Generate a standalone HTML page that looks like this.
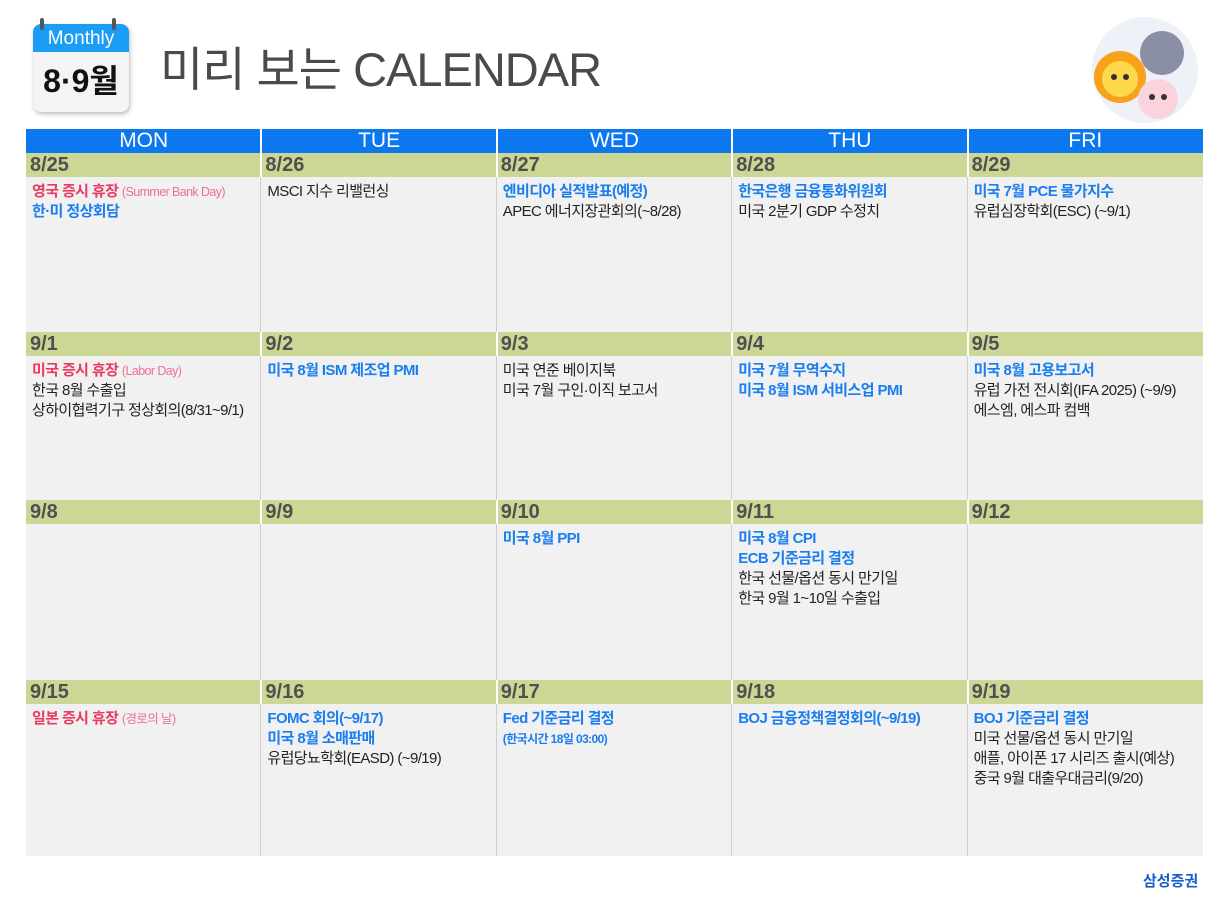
<!DOCTYPE html>
<html><head><meta charset="utf-8"><style>
body{margin:0;width:1230px;height:905px;background:#fff;position:relative;overflow:hidden;font-family:"Liberation Sans","Noto Sans CJK KR",sans-serif;}
.abs{position:absolute}
.hdr{position:absolute;top:129px;height:24px;background:#0b78f0;color:#fff;font-size:21px;text-align:center;line-height:24px}
.bar{position:absolute;height:24px;background:#cad795;color:#505050;font-size:20px;line-height:24px;padding-left:4px;box-sizing:border-box;font-weight:bold}
.cell{position:absolute;background:#f1f1f1;font-size:15px;line-height:20px;padding:5px 0 0 6px;box-sizing:border-box;color:#222;letter-spacing:-0.6px;white-space:nowrap}
.b{color:#1a7ef0;font-weight:bold}
.r{color:#ec3a63;font-weight:bold}
.rs{color:#ef6f8f;font-size:12.5px;font-weight:normal}
.vl{position:absolute;width:2px;background:#fff}
</style></head><body>
<div class="abs" style="left:33px;top:24px;width:96px;height:88px;border-radius:8px;background:#f4f4f4;box-shadow:1px 2px 4px #bbb;">
 <div style="height:28px;background:#1b9cf5;border-radius:8px 8px 0 0;color:#fff;font-size:19px;text-align:center;line-height:30px">Monthly</div>
 <div style="font-size:32px;font-weight:bold;text-align:center;line-height:58px;color:#111">8·9월</div>
</div>
<div class="abs" style="left:40px;top:18px;width:4px;height:12px;background:#555;border-radius:2px"></div>
<div class="abs" style="left:112px;top:18px;width:4px;height:12px;background:#555;border-radius:2px"></div>
<div class="abs" style="left:160px;top:42px;font-size:47px;color:#4a4a4a;line-height:56px;letter-spacing:-1px">미리 보는 CALENDAR</div>
<svg class="abs" style="left:1090px;top:15px" width="110" height="110">
<circle cx="55" cy="55" r="53" fill="#eef1f8"/><circle cx="30" cy="62" r="26" fill="#f7a21b"/><circle cx="30" cy="64" r="18" fill="#ffd84a"/><circle cx="72" cy="38" r="22" fill="#8a8fa3"/><circle cx="68" cy="84" r="20" fill="#fbd3dd"/><circle cx="62" cy="82" r="3" fill="#333"/><circle cx="74" cy="82" r="3" fill="#333"/><circle cx="24" cy="62" r="3" fill="#333"/><circle cx="36" cy="62" r="3" fill="#333"/></svg>
<div id="grid"></div>
<div class="abs" style="left:1143px;top:870px;font-size:15px;font-weight:bold;color:#1a5fc8">삼성증권</div>
<script>
const days=["MON","TUE","WED","THU","FRI"];
const dates=[["8/25","8/26","8/27","8/28","8/29"],["9/1","9/2","9/3","9/4","9/5"],["9/8","9/9","9/10","9/11","9/12"],["9/15","9/16","9/17","9/18","9/19"]];
const events=[
['<span class="r">영국 증시 휴장</span> <span class="rs">(Summer Bank Day)</span><br><span class="b">한·미 정상회담</span>','MSCI 지수 리밸런싱','<span class="b">엔비디아 실적발표(예정)</span><br>APEC 에너지장관회의(~8/28)','<span class="b">한국은행 금융통화위원회</span><br>미국 2분기 GDP 수정치','<span class="b">미국 7월 PCE 물가지수</span><br>유럽심장학회(ESC) (~9/1)'],
['<span class="r">미국 증시 휴장</span> <span class="rs">(Labor Day)</span><br>한국 8월 수출입<br>상하이협력기구 정상회의(8/31~9/1)','<span class="b">미국 8월 ISM 제조업 PMI</span>','미국 연준 베이지북<br>미국 7월 구인·이직 보고서','<span class="b">미국 7월 무역수지<br>미국 8월 ISM 서비스업 PMI</span>','<span class="b">미국 8월 고용보고서</span><br>유럽 가전 전시회(IFA 2025) (~9/9)<br>에스엠, 에스파 컴백'],
['','','<span class="b">미국 8월 PPI</span>','<span class="b">미국 8월 CPI<br>ECB 기준금리 결정</span><br>한국 선물/옵션 동시 만기일<br>한국 9월 1~10일 수출입',''],
['<span class="r">일본 증시 휴장</span> <span class="rs">(경로의 날)</span>','<span class="b">FOMC 회의(~9/17)<br>미국 8월 소매판매</span><br>유럽당뇨학회(EASD) (~9/19)','<span class="b">Fed 기준금리 결정</span><br><span class="b" style="font-size:12px">(한국시간 18일 03:00)</span>','<span class="b">BOJ 금융정책결정회의(~9/19)</span>','<span class="b">BOJ 기준금리 결정</span><br>미국 선물/옵션 동시 만기일<br>애플, 아이폰 17 시리즈 출시(예상)<br>중국 9월 대출우대금리(9/20)']];
const rowTops=[153,332,500,680], rowBottoms=[332,500,680,856];
const X0=26,CW=235.4;
const g=document.getElementById('grid');
days.forEach((d,i)=>{const e=document.createElement('div');e.className='hdr';


e.style.left=(X0+i*CW)+'px';e.style.width=CW+'px';e.textContent=d;g.appendChild(e);});
dates.forEach((row,r)=>row.forEach((dt,c)=>{
const b=document.createElement('div');b.className='bar';


b.style.left=(X0+c*CW)+'px';b.style.width=CW+'px';b.style.top=rowTops[r]+'px';b.textContent=dt;g.appendChild(b);
const e=document.createElement('div');e.className='cell';


e.style.left=(X0+c*CW)+'px';e.style.width=CW+'px';e.style.top=(rowTops[r]+24)+'px';e.style.height=(rowBottoms[r]-rowTops[r]-24)+'px';e.innerHTML=events[r][c];g.appendChild(e);}));
for(let i=1;i<5;i++){
const w=document.createElement('div');w.className='vl';w.style.left=(X0+i*CW-1)+'px';w.style.top='129px';w.style.height='48px';g.appendChild(w);
for(let r=0;r<4;r++){const v=document.createElement('div');v.className='abs';v.style.background='#cfcfcf';v.style.width='1px';v.style.left=(X0+i*CW-1)+'px';v.style.top=(rowTops[r]+24)+'px';v.style.height=(rowBottoms[r]-rowTops[r]-24)+'px';g.appendChild(v);
const w2=document.createElement('div');w2.className='vl';w2.style.left=(X0+i*CW-1)+'px';w2.style.top=rowTops[r]+'px';w2.style.height='24px';g.appendChild(w2);}}
</script>
</body></html>
